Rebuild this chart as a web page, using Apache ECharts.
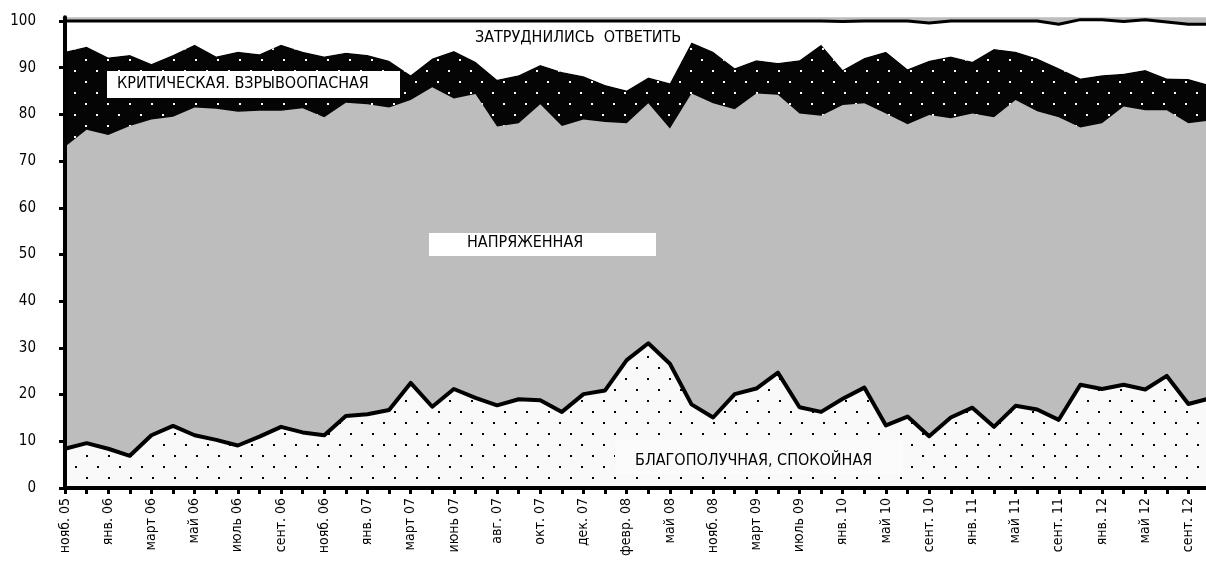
<!DOCTYPE html>
<html>
<head>
<meta charset="utf-8">
<script src="https://cdn.jsdelivr.net/npm/echarts@6/dist/echarts.min.js"></script>
<style>html,body{margin:0;padding:0;background:#fff}#c{width:1206px;height:570px}</style>
</head>
<body>
<div id="c"></div>
<script>
const categories = [
  'нояб. 05','дек. 05','янв. 06','февр. 06','март 06','апр. 06','май 06','июнь 06','июль 06','авг. 06',
  'сент. 06','окт. 06','нояб. 06','дек. 06','янв. 07','февр. 07','март 07','апр. 07','июнь 07','июль 07',
  'авг. 07','сент. 07','окт. 07','нояб. 07','дек. 07','янв. 08','февр. 08','март 08','май 08','авг. 08',
  'нояб. 08','янв. 09','март 09','май 09','июль 09','нояб. 09','янв. 10','март 10','май 10','июль 10',
  'сент. 10','нояб. 10','янв. 11','март 11','май 11','июль 11','сент. 11','нояб. 11','янв. 12','март 12',
  'май 12','июль 12','сент. 12','нояб. 12'
];
const calm = [8.4,9.6,8.4,6.9,11.3,13.3,11.3,10.3,9.1,11.0,13.1,11.9,11.3,15.4,15.8,16.7,22.5,17.4,21.2,19.3,
  17.7,19.0,18.8,16.3,20.1,20.9,27.4,31.0,26.6,17.9,15.1,20.1,21.3,24.7,17.3,16.3,19.1,21.5,13.4,15.3,
  11.1,15.1,17.2,13.1,17.6,16.8,14.6,22.1,21.2,22.1,21.1,24.0,18.0,19.2];
const tense = [64.7,67.1,67.2,70.6,67.6,66.2,70.2,70.9,71.5,69.8,67.7,69.4,68.1,67.1,66.4,64.8,60.6,68.4,62.2,65.1,
  59.7,59.1,63.4,61.2,58.8,57.5,50.7,51.4,50.4,66.6,67.3,61.0,63.2,59.5,62.9,63.4,62.9,60.9,66.8,62.6,
  68.8,64.1,63.0,66.3,65.5,63.9,64.8,55.1,56.9,59.6,59.8,56.9,60.1,59.5];
const critical = [20.3,17.8,16.6,15.2,11.9,13.2,13.4,11.2,12.8,12.1,14.1,12.1,13.0,10.7,10.5,10.0,5.3,6.2,10.2,6.9,
  10.0,10.3,8.4,11.6,9.3,7.9,7.0,5.5,9.7,10.9,11.0,8.8,7.1,6.8,11.4,15.2,7.5,9.7,13.2,11.8,
  11.6,13.2,11.1,14.6,10.3,11.3,10.5,10.5,10.3,7.0,8.6,6.8,9.5,7.6];
const hardToSay = [6.6,5.5,7.8,7.3,9.2,7.3,5.1,7.6,6.6,7.1,5.1,6.6,7.6,6.8,7.3,8.5,11.6,8.0,6.4,8.7,
  12.6,11.6,9.4,10.9,11.8,13.7,14.9,12.1,13.3,4.6,6.6,10.1,8.4,9.0,8.4,5.1,10.4,7.9,6.6,10.3,
  8.1,7.6,8.7,6.0,6.6,8.0,9.4,12.6,11.9,11.2,10.8,12.1,11.7,13.0];
const yTicks = [0,10,20,30,40,50,60,70,80,90,100];
const seriesNames = ['БЛАГОПОЛУЧНАЯ, СПОКОЙНАЯ','НАПРЯЖЕННАЯ','КРИТИЧЕСКАЯ. ВЗРЫВООПАСНАЯ','ЗАТРУДНИЛИСЬ  ОТВЕТИТЬ'];

const FONT = '"Liberation Sans Narrow", "DejaVu Sans Condensed", "Arial Narrow", sans-serif';

function dotPattern(bg, fg, ox, oy, d) {
  const cv = document.createElement('canvas');
  cv.width = 22; cv.height = 22;
  const ctx = cv.getContext('2d');
  ctx.fillStyle = bg; ctx.fillRect(0, 0, 22, 22);
  ctx.fillStyle = fg;
  ctx.fillRect(ox % 22, oy % 22, d, d);
  ctx.fillRect((ox + 11) % 22, (oy + 11) % 22, d, d);
  return { image: cv, repeat: 'repeat' };
}

const chart = echarts.init(document.getElementById('c'), null, { renderer: 'canvas' });
chart.setOption({
  backgroundColor: '#ffffff',
  animation: false,
  grid: { left: 65, right: -4, top: 17.3, bottom: 82, containLabel: false, outerBoundsMode: 'none',
          show: true, backgroundColor: '#bdbdbd', borderWidth: 0 },
  xAxis: {
    type: 'category', data: categories, boundaryGap: false,
    axisLine: { show: true, lineStyle: { color: '#000', width: 4 } },
    axisTick: { show: true, interval: 0, length: 6, lineStyle: { color: '#000', width: 3 } },
    axisLabel: { interval: 1, rotate: 90, margin: 10, color: '#000', fontSize: 14, fontFamily: FONT },
    splitLine: { show: false }, z: 5
  },
  yAxis: {
    type: 'value', min: 0, max: 100.8, interval: 10,
    axisLine: { show: true, lineStyle: { color: '#000', width: 4 } },
    axisTick: { show: true, length: 6, customValues: yTicks, lineStyle: { color: '#000', width: 3 } },
    axisLabel: { customValues: yTicks, margin: 29, color: '#000', fontSize: 15, fontFamily: FONT },
    splitLine: { show: false }, z: 5
  },
  series: [
    { name: seriesNames[0], type: 'line', stack: 't', data: calm, symbol: 'none', z: 4,
      lineStyle: { color: '#000', width: 4, join: 'round' },
      areaStyle: { color: dotPattern('#f9f9f9', '#000', 9, 4, 2), opacity: 1 } },
    { name: seriesNames[1], type: 'line', stack: 't', data: tense, symbol: 'none', z: 2,
      lineStyle: { width: 0 }, areaStyle: { color: '#bdbdbd', opacity: 1 } },
    { name: seriesNames[2], type: 'line', stack: 't', data: critical, symbol: 'none', z: 2,
      lineStyle: { width: 0.5, color: '#000' }, areaStyle: { color: dotPattern('#050505', '#ffffff', 8, 4, 2), opacity: 1 } },
    { name: seriesNames[3], type: 'line', stack: 't', data: hardToSay, symbol: 'none', z: 3,
      lineStyle: { color: '#000', width: 3 }, areaStyle: { color: '#ffffff', opacity: 1 } }
  ],
  graphic: [
    { type: 'rect', left: 107, top: 71, shape: { width: 293, height: 27 }, style: { fill: '#fff' }, z: 10 },
    { type: 'text', left: 117, top: 76, style: { text: seriesNames[2], font: '16px ' + FONT, fill: '#000' }, z: 11 },
    { type: 'rect', left: 429, top: 233, shape: { width: 227, height: 23 }, style: { fill: '#fff' }, z: 10 },
    { type: 'text', left: 467, top: 235, style: { text: seriesNames[1], font: '16px ' + FONT, fill: '#000' }, z: 11 },
    { type: 'text', left: 475, top: 30, style: { text: seriesNames[3], font: '16px ' + FONT, fill: '#000' }, z: 11 },
    { type: 'rect', left: 615, top: 440, shape: { width: 288, height: 34 }, style: { fill: '#fbfbfb' }, z: 10 },
    { type: 'text', left: 635, top: 453, style: { text: seriesNames[0], font: '16px ' + FONT, fill: '#000' }, z: 11 }
  ]
});
</script>
</body>
</html>
